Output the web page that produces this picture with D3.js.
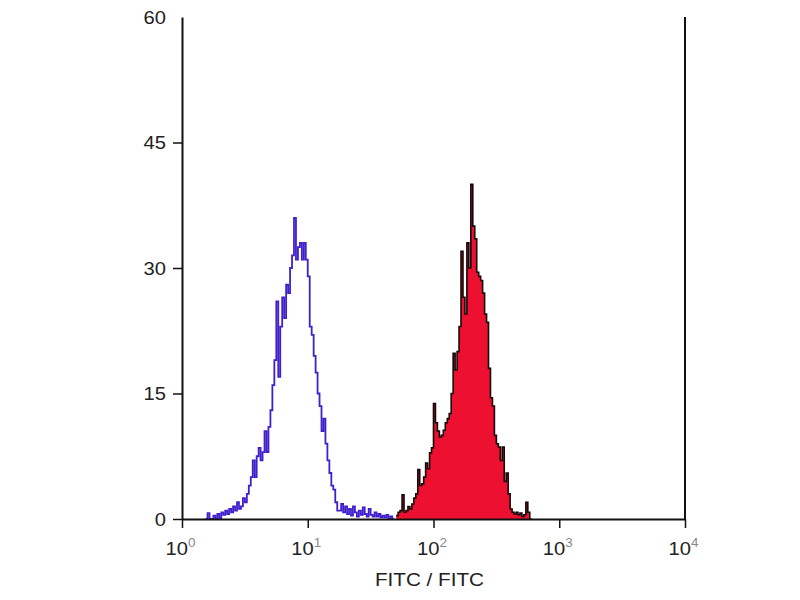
<!DOCTYPE html>
<html>
<head>
<meta charset="utf-8">
<script src="https://cdn.jsdelivr.net/npm/d3@7"></script>
<style>
  html, body { margin: 0; padding: 0; background: #fff; }
  svg { display: block; }
  text { font-family: "Liberation Sans", Arial, sans-serif; }
</style>
</head>
<body>
<svg id="chart" width="800" height="600"></svg>
<script>
// ---- data (channel counts, 64 channels per decade) ----
const channelsPerDecade = 64;
const xTickValues = [1, 10, 100, 1000, 10000];
const xTickExponents = ["0", "1", "2", "3", "4"];
const yTickValues = [0, 15, 30, 45, 60];
const xLabel = "FITC / FITC";

// isotype control (blue outline), first channel = 12
const blueStart = 12;
const blueCounts = [
  0, 0.7, 0, 0, 0.4, 0, 0.6, 0, 0.8, 0.5,
  1.0, 0.6, 1.2, 0.8, 1.5, 1.0, 2.0, 1.2, 1.5, 2.5,
  2.0, 3.0, 4.0, 5.0, 7.0, 5.0, 7.5, 8.5, 7.0, 8.0,
  10.5, 8.0, 11.0, 13.0, 16.0, 19.0, 26.0, 17.0, 23.0, 26.5,
  24.0, 28.0, 27.0, 30.0, 31.5, 36.0, 31.0, 32.5, 33.0, 31.0,
  33.0, 31.0, 29.0, 23.0, 22.0, 19.5, 17.5, 15.0, 13.5, 10.5,
  12.0, 9.0, 7.0, 5.5, 4.0, 3.5, 2.0, 1.0, 1.0, 1.8,
  0.8, 1.5, 0.6, 1.2, 0.4, 1.5, 0.8, 0.3, 1.0, 0.5,
  1.4, 0.6, 0.3, 1.2, 0.5, 0.3, 0.8, 0.3, 0.6, 0.2,
  0.4, 0.2, 0.5, 0, 0.3, 0
];

// stained sample (red filled), first channel = 109
const redStart = 109;
const redCounts = [
  0.4, 0.8, 1.0, 2.9, 0.8, 1.0, 1.5, 1.2, 1.8, 2.5,
  3.0, 5.9, 4.0, 4.2, 5.0, 6.7, 6.0, 7.9, 8.5, 13.8,
  11.5, 10.5, 9.8, 10.0, 10.6, 11.5, 12.0, 12.6, 15.0, 19.8,
  17.8, 20.0, 23.0, 32.0, 26.5, 24.5, 33.0, 30.0, 40.0, 35.0,
  33.5, 29.5, 29.0, 28.5, 27.0, 24.5, 23.5, 18.0, 14.5, 13.5,
  10.0, 9.0, 8.6, 7.0, 8.6, 4.5, 5.5, 3.0, 1.2, 0.8,
  0.6, 0.8, 0.5, 0.7, 0.3, 0.5, 2.0, 0.8, 0
];

// ---- layout ----
const mLeft = 182, mRight = 685, mTop = 17, mBottom = 519;
const svg = d3.select("#chart");

const x = d3.scaleLog().domain([1, 10000]).range([mLeft, mRight]);
const y = d3.scaleLinear().domain([0, 60]).range([mBottom, mTop]);

function toPoints(start, counts) {
  const pts = counts.map((v, i) => ({ x: Math.pow(10, (start + i) / channelsPerDecade), v }));
  pts.push({ x: Math.pow(10, (start + counts.length) / channelsPerDecade), v: counts[counts.length - 1] });
  return pts;
}

const bluePts = toPoints(blueStart, blueCounts);
const redPts = toPoints(redStart, redCounts);

const stepLine = d3.line().x(d => x(d.x)).y(d => y(d.v)).curve(d3.curveStepAfter);
const stepArea = d3.area().x(d => x(d.x)).y0(y(0)).y1(d => y(d.v)).curve(d3.curveStepAfter);

// red filled histogram
svg.append("path").datum(redPts)
  .attr("d", stepArea)
  .attr("fill", "#ee1030");
svg.append("path").datum(redPts)
  .attr("d", stepLine)
  .attr("fill", "none")
  .attr("stroke", "#150808")
  .attr("stroke-width", 1.6);

// blue outline histogram
svg.append("path").datum(bluePts)
  .attr("d", stepLine)
  .attr("fill", "none")
  .attr("stroke", "#3f20cc")
  .attr("stroke-width", 1.8);

// ---- axes ----
const yAxis = d3.axisLeft(y).tickValues(yTickValues).tickSize(9).tickSizeOuter(0).tickFormat(d3.format("d"));
const gy = svg.append("g").attr("transform", `translate(${mLeft},0)`).call(yAxis);
gy.select(".domain").attr("stroke", "#111").attr("stroke-width", 2);
gy.selectAll(".tick line").attr("stroke", "#111").attr("stroke-width", 1.5)
  .attr("opacity", d => d === 60 ? 0 : 1);
gy.selectAll(".tick text")
  .attr("font-size", 18).attr("fill", "#222")
  .attr("x", 0).attr("dy", "0.36em")
  .attr("transform", "translate(-16,0) scale(1.12,1)");

const xAxis = d3.axisBottom(x).tickValues(xTickValues).tickSize(9).tickSizeOuter(0).tickFormat("");
const gx = svg.append("g").attr("transform", `translate(0,${mBottom})`).call(xAxis);
gx.select(".domain").attr("stroke", "#111").attr("stroke-width", 2);
gx.selectAll(".tick line").attr("stroke", "#111").attr("stroke-width", 1.5);

// decade labels 10^n
gx.selectAll(".tick").each(function(d, i) {
  const t = d3.select(this).append("text")
    .attr("y", 36).attr("text-anchor", "middle")
    .attr("transform", "translate(-2,0) scale(1.12,1)")
    .attr("font-size", 18).attr("fill", "#222");
  t.append("tspan").text("10");
  t.append("tspan").attr("dy", -8).attr("font-size", 12).attr("fill", "#8a8a8a").text(xTickExponents[i]);
});

// right border line
svg.append("line")
  .attr("x1", mRight).attr("x2", mRight)
  .attr("y1", y(60)).attr("y2", mBottom)
  .attr("stroke", "#111").attr("stroke-width", 2);

// x label
svg.append("text")
  .attr("transform", `translate(${(mLeft + mRight) / 2 - 4},586) scale(1.15,1)`)
  .attr("text-anchor", "middle")
  .attr("font-size", 18).attr("fill", "#222")
  .text(xLabel);
</script>
</body>
</html>
